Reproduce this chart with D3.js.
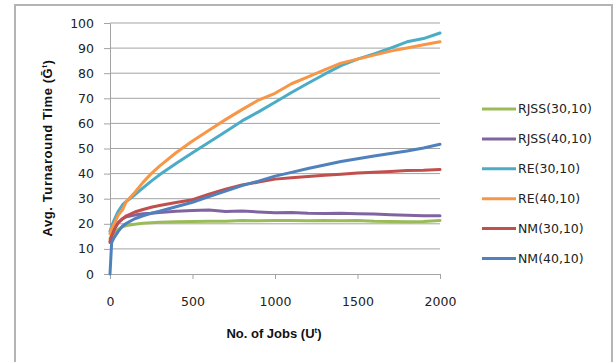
<!DOCTYPE html>
<html>
<head>
<meta charset="utf-8">
<script src="https://cdn.jsdelivr.net/npm/d3@7"></script>
<style>
  body { margin: 0; background: #fff; }
  svg { display: block; }
</style>
</head>
<body>
<script>
const width = 616;
const height = 362;

// number of jobs (x values)
const jobs = [0, 10, 25, 50, 75, 100, 150, 200, 250, 300, 400, 500, 600, 700, 800, 900,
  1000, 1100, 1200, 1300, 1400, 1500, 1600, 1700, 1800, 1900, 2000];

// avg turnaround time per series
const rjss30 = [14, 15.5, 16.5, 17.8, 18.8, 19.3, 19.8, 20.2, 20.4, 20.6, 20.8, 20.9, 21, 21, 21.3, 21.2,
  21.3, 21.3, 21.2, 21.3, 21.2, 21.3, 21, 20.9, 20.8, 20.9, 21.3];
const rjss40 = [13, 15.5, 18, 20.5, 22, 22.8, 23.5, 24, 24.2, 24.5, 25, 25.3, 25.5, 24.9, 25.1, 24.7,
  24.4, 24.5, 24.2, 24.1, 24.2, 24, 23.9, 23.6, 23.4, 23.2, 23.2];
const re30 = [17, 19, 21.5, 25, 27.5, 29, 31.5, 34.3, 37, 39.5, 44, 48.3, 52.5, 56.7, 61, 64.6,
  68.4, 72.3, 76, 79.6, 83, 85.6, 87.7, 90, 92.5, 93.8, 96];
const re40 = [16, 18, 20, 23.5, 25.5, 29, 32.5, 36.5, 40, 43, 48.3, 53, 57.3, 61.5, 65.5, 69.3,
  72, 75.8, 78.5, 81.3, 84, 85.6, 87.2, 88.8, 90, 91.3, 92.5];
const nm30 = [12.5, 15, 17.5, 20.5, 22, 23.2, 24.7, 25.7, 26.6, 27.3, 28.5, 29.6, 31.8, 33.8, 35.5, 36.6,
  37.8, 38.3, 38.8, 39.3, 39.7, 40.2, 40.5, 40.8, 41.2, 41.3, 41.6];
const nm40 = [0, 12.5, 14.5, 17, 19, 20.2, 22, 23.2, 24.2, 25, 26.8, 28.6, 30.8, 33, 35.2, 37,
  39, 40.5, 42, 43.4, 44.8, 45.9, 47, 48, 49, 50.2, 51.7];

const seriesNames = ["RJSS(30,10)", "RJSS(40,10)", "RE(30,10)", "RE(40,10)", "NM(30,10)", "NM(40,10)"];
const seriesValues = [rjss30, rjss40, re30, re40, nm30, nm40];
const colors = ["#9bbb59", "#8064a2", "#4bacc6", "#f79646", "#c0504d", "#4f81bd"];

const xTicks = [0, 500, 1000, 1500, 2000];
const yTicks = [0, 10, 20, 30, 40, 50, 60, 70, 80, 90, 100];

const svg = d3.select("body")
  .append("svg")
  .attr("width", width)
  .attr("height", height);

svg.append("rect")
  .attr("width", width)
  .attr("height", height)
  .attr("fill", "#fff");

// outer chart frame
svg.append("rect")
  .attr("x", 15)
  .attr("y", 5)
  .attr("width", 597)
  .attr("height", 370)
  .attr("fill", "none")
  .attr("stroke", "#b4b4b4")
  .attr("stroke-width", 2);

const x = d3.scaleLinear().domain([0, 2000]).range([110, 440]);
const y = d3.scaleLinear().domain([0, 100]).range([274, 23]);

// gridlines
svg.append("g")
  .selectAll("line")
  .data(yTicks.slice(1))
  .enter()
  .append("line")
  .attr("x1", x(0))
  .attr("x2", x(2000))
  .attr("y1", d => y(d))
  .attr("y2", d => y(d))
  .attr("stroke", "#a3a3a3")
  .attr("stroke-width", 1);

const tickFont = "'DejaVu Sans', Verdana, sans-serif";

const yAxis = svg.append("g")
  .attr("transform", `translate(${x(0)},0)`)
  .call(d3.axisLeft(y).tickValues(yTicks).tickFormat(d3.format("d"))
    .tickSize(6).tickPadding(10).tickSizeOuter(0));

const xAxis = svg.append("g")
  .attr("transform", `translate(0,${y(0)})`)
  .call(d3.axisBottom(x).tickValues(xTicks).tickFormat(d3.format("d"))
    .tickSize(5).tickPadding(18).tickSizeOuter(0));

[xAxis, yAxis].forEach(ax => {
  ax.select(".domain").attr("stroke", "#a3a3a3").attr("stroke-width", 1);
  ax.selectAll(".tick line").attr("stroke", "#a3a3a3");
  ax.selectAll("text")
    .attr("fill", "#222")
    .style("font-family", tickFont)
    .style("font-size", "12.5px");
});

// series lines
const line = d3.line()
  .x((d, i) => x(jobs[i]))
  .y(d => y(d));

svg.append("g")
  .selectAll("path")
  .data(seriesValues)
  .enter()
  .append("path")
  .attr("d", d => line(d))
  .attr("fill", "none")
  .attr("stroke", (d, i) => colors[i])
  .attr("stroke-width", 3)
  .attr("stroke-linejoin", "round")
  .attr("stroke-linecap", "round");

// axis titles
const titleFont = "'Liberation Sans', Arial, sans-serif";

const xTitle = svg.append("text")
  .attr("x", 274)
  .attr("y", 338)
  .attr("text-anchor", "middle")
  .style("font-family", titleFont)
  .style("font-weight", "bold")
  .style("font-size", "13px")
  .attr("fill", "#111");
xTitle.append("tspan").text("No. of Jobs (U");
xTitle.append("tspan").attr("dy", -5).style("font-size", "8px").text("t");
xTitle.append("tspan").attr("dy", 5).text(")");

const yTitle = svg.append("text")
  .attr("transform", "translate(52,148) rotate(-90)")
  .attr("text-anchor", "middle")
  .style("font-family", titleFont)
  .style("font-weight", "bold")
  .style("font-size", "13px")
  .style("letter-spacing", "0.6px")
  .attr("fill", "#111");
yTitle.append("tspan").text("Avg. Turnaround Time (G\u0304");
yTitle.append("tspan").attr("dy", -5).style("font-size", "8px").text("t");
yTitle.append("tspan").attr("dy", 5).text(")");

// legend
const legend = svg.append("g")
  .selectAll("g")
  .data(seriesNames)
  .enter()
  .append("g")
  .attr("transform", (d, i) => `translate(482,${109 + i * 29.9})`);

legend.append("line")
  .attr("x1", 0)
  .attr("x2", 34)
  .attr("stroke", (d, i) => colors[i])
  .attr("stroke-width", 3);

legend.append("text")
  .attr("x", 36)
  .attr("dy", "0.35em")
  .attr("fill", "#222")
  .style("font-family", tickFont)
  .style("font-size", "12.5px")
  .text(d => d);
</script>
</body>
</html>
